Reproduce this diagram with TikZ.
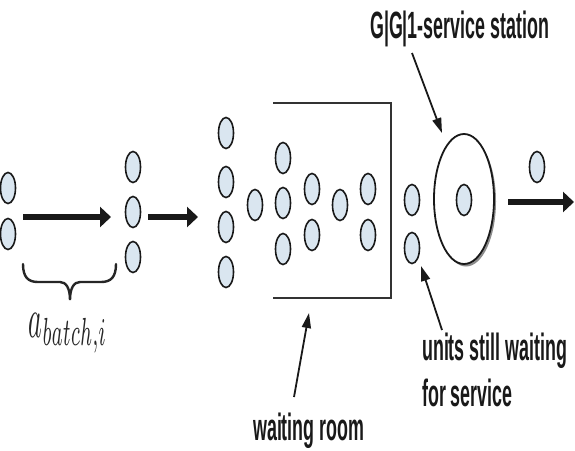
\documentclass[tikz,border=0pt]{standalone}
\usepackage{fontspec}
\usepackage{graphicx}
\usetikzlibrary{shapes.geometric,arrows.meta,shadows}
\newfontfamily\labfont[FakeStretch=0.47]{Liberation Sans}
\definecolor{unitfill}{RGB}{218,230,240}
\definecolor{ink}{RGB}{25,25,25}
\tikzset{
  unit/.style={ellipse, draw=ink, line width=1.6pt, fill=unitfill,
    minimum width=15pt, minimum height=31pt, inner sep=0pt},
  station/.style={ellipse, draw=ink, line width=1.8pt, fill=white,
    minimum width=60pt, minimum height=130pt, inner sep=0pt,
    drop shadow={shadow xshift=2pt, shadow yshift=-2.5pt, fill=black!45, opacity=1}},
  bigarrow/.style={line width=6.5pt, draw=ink, -{Triangle[length=11pt,width=20pt]}},
  thinarrow/.style={line width=1.8pt, draw=ink, -{Triangle[length=15pt,width=9pt]}},
  lab/.style={font=\labfont\bfseries\fontsize{38}{46}\selectfont, inner sep=0pt, text=ink},
  room/.style={line width=2pt, draw=black!80},
  bracestyle/.style={line width=2.4pt, draw=black!85, line cap=round},
}
\begin{document}
\begin{tikzpicture}[x=1pt,y=-1pt]
\useasboundingbox (0,0) rectangle (575,450);
% waiting room walls
\coordinate (rtl) at (273,103);
\coordinate (rtr) at (391,103);
\coordinate (rbr) at (391,298);
\coordinate (rbl) at (273,298);
\draw[room] (rtl) -- (rtr) -- (rbr) -- (rbl);
% units
\node[unit] (l1) at (8,188) {};
\node[unit] (l2) at (8,234) {};
\node[unit] (b1) at (133,167) {};
\node[unit] (b2) at (133,212) {};
\node[unit] (b3) at (133,257) {};
\node[unit] (c1) at (226,133) {};
\node[unit] (c2) at (226,182) {};
\node[unit] (c3) at (226,227) {};
\node[unit] (c4) at (226,272) {};
\node[unit] (w1) at (255,205) {};
\node[unit] (w2) at (283,158) {};
\node[unit] (w3) at (283,203) {};
\node[unit] (w4) at (283,249) {};
\node[unit] (w5) at (312,189) {};
\node[unit] (w6) at (312,235) {};
\node[unit] (w7) at (340,205) {};
\node[unit] (w8) at (368,189) {};
\node[unit] (w9) at (368,235) {};
\node[unit] (q1) at (412,200) {};
\node[unit] (q2) at (412,248) {};
\node[station] (st) at (464,199) {};
\node[unit] (s0) at (464,200) {};
\node[unit] (ex) at (537,167) {};
% thick arrows
\coordinate (a1s) at (23,217);
\coordinate (a1e) at (111,217);
\coordinate (a2s) at (148,217);
\coordinate (a2e) at (198,217);
\coordinate (a3s) at (508,202);
\coordinate (a3e) at (574,202);
\draw[bigarrow] (a1s) -- (a1e);
\draw[bigarrow] (a2s) -- (a2e);
\draw[bigarrow] (a3s) -- (a3e);
% brace
\coordinate (brl) at (23,264);
\coordinate (brr) at (116,264);
\coordinate (brt) at (70,300);
\draw[bracestyle] (brl) .. controls (23,277) and (28,282) .. (38,282) -- (60,282)
  .. controls (66,282) and (70,288) .. (brt)
  .. controls (70,288) and (74,282) .. (80,282) -- (101,282)
  .. controls (111,282) and (116,277) .. (brr);
\node[inner sep=0pt, anchor=base, text=black!85] (abatch) at (68,337)
  {\scalebox{2.6}[5.6]{$a_{batch,i}$}};
% labels
\node[lab, anchor=base west] (gg1) at (370,38) {G|G|1-service station};
\node[lab, anchor=base west] (usw) at (422,360) {units still waiting};
\node[lab, anchor=base west] (ufs) at (422,406) {for service};
\node[lab, anchor=base west] (wr) at (253,440) {waiting room};
% label arrows
\coordinate (gs) at (412,53);
\coordinate (ge) at (442,133);
\coordinate (us) at (442,330);
\coordinate (ue) at (421,266);
\coordinate (ws) at (294,397);
\coordinate (we) at (309,313);
\draw[thinarrow] (gs) -- (ge);
\draw[thinarrow] (us) -- (ue);
\draw[thinarrow] (ws) -- (we);
\end{tikzpicture}
\end{document}
